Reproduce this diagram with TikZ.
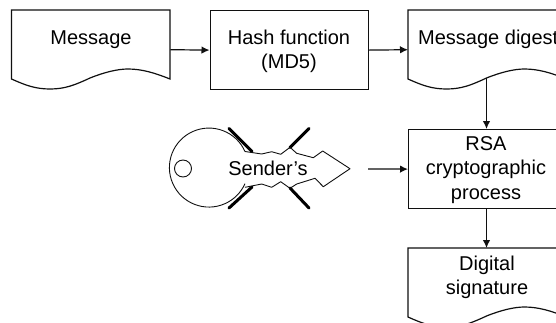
\documentclass[tikz,border=0pt]{standalone}
\usepackage{fontspec}
\setmainfont{Liberation Sans}
\usetikzlibrary{arrows.meta}
\definecolor{ink}{HTML}{101010}
\tikzset{
  x=1pt,y=-1pt,
  boxshape/.style={draw=ink,line width=1.2pt,minimum width=158.5pt,minimum height=79pt,inner sep=0pt,anchor=north west},
  docshape/.style={draw=ink,line width=1.2pt,line join=miter},
  lbl/.style={font=\fontsize{20}{24.5}\selectfont,align=center,text=black,inner sep=0pt},
  flow/.style={draw=ink,line width=1.2pt,-{Latex[length=8pt,width=7.5pt]}},
  keyline/.style={draw=ink,line width=0.9pt,line join=round},
  keybit/.style={draw=black,line width=3pt,line cap=round},
}
\newcommand{\docpath}[2]{%
  \begin{scope}[shift={(#1,#2)}]
    \draw[docshape] (0,69) -- (0,0) -- (158.5,0) -- (158.5,69)
      .. controls (143.5,63) and (130.5,59) .. (116.5,59)
      .. controls (106.5,59) and (93.5,62) .. (78.5,68)
      .. controls (63.5,75) and (53.5,79) .. (38.5,79)
      .. controls (23.5,79) and (13.5,75) .. (0,69) -- cycle;
  \end{scope}}
\begin{document}
\begin{tikzpicture}
\useasboundingbox (0,0) rectangle (556,322);
\clip (0,0) rectangle (556,322);
% documents
\docpath{11.5}{10}
\docpath{408}{10}
\docpath{408}{248}
\node[minimum width=158.5pt,minimum height=79pt,inner sep=0pt,anchor=north west] (msg) at (11.5,10) {};
\node[minimum width=158.5pt,minimum height=79pt,inner sep=0pt,anchor=north west] (digest) at (408,10) {};
\node[minimum width=158.5pt,minimum height=79pt,inner sep=0pt,anchor=north west] (sig) at (408,248) {};
\coordinate (digestwave) at (486.5,78);
\coordinate (sigtop) at (486.5,248);
% boxes
\node[boxshape] (hash) at (209.5,10) {};
\node[boxshape] (rsa) at (408,129) {};
\coordinate (rsatop) at (486.5,129);
\coordinate (rsabot) at (486.5,208);
% labels
\node[lbl] (msgt) at (91,39.5) {Message};
\node[lbl] (hasht) at (289,51.5) {Hash function\\(MD5)};
\node[lbl,anchor=west] (digt) at (418,39.5) {Message digest};
\node[lbl] (rsat) at (486,170) {RSA\\cryptographic\\process};
\node[lbl] (sigt) at (487,277.5) {Digital\\signature};
% key
\begin{scope}[shift={(150,110)}]
  \draw[keybit] (79,18.5) -- (102,41.5);
  \draw[keybit] (159,18.5) -- (140,37.5);
  \draw[keybit] (79,98) -- (102,77);
  \draw[keybit] (159,98) -- (140,78);
  \draw[keyline] (33,58.5) circle (8.5);
  \draw[keyline] (95,41.5) arc[start angle=-24,end angle=-336,radius=39.5] ;
  \draw[keyline] (95,41.5) -- (111.7,44) -- (121.7,41.7) -- (130.7,44.3) -- (140,37.3)
    -- (146.7,43.3) -- (163.3,47.7) -- (172.7,41) -- (200,58.7) -- (173.3,76.7)
    -- (165,68.3) -- (146.7,74) -- (140,78.3) -- (130.7,71.7) -- (121.7,77.3) -- (111.7,74) -- (95,77.3);
\end{scope}
\node[lbl] (keyt) at (268,168.5) {Sender's};
\coordinate (keytip) at (368,169);
% connectors
\draw[flow] (msg.east) -- (hash.west);
\draw[flow] (hash.east) -- (digest.west);
\draw[flow] (digestwave) -- (rsatop);
\draw[flow] (keytip) -- (rsa.west);
\draw[flow] (rsabot) -- (sigtop);
\end{tikzpicture}
\end{document}
